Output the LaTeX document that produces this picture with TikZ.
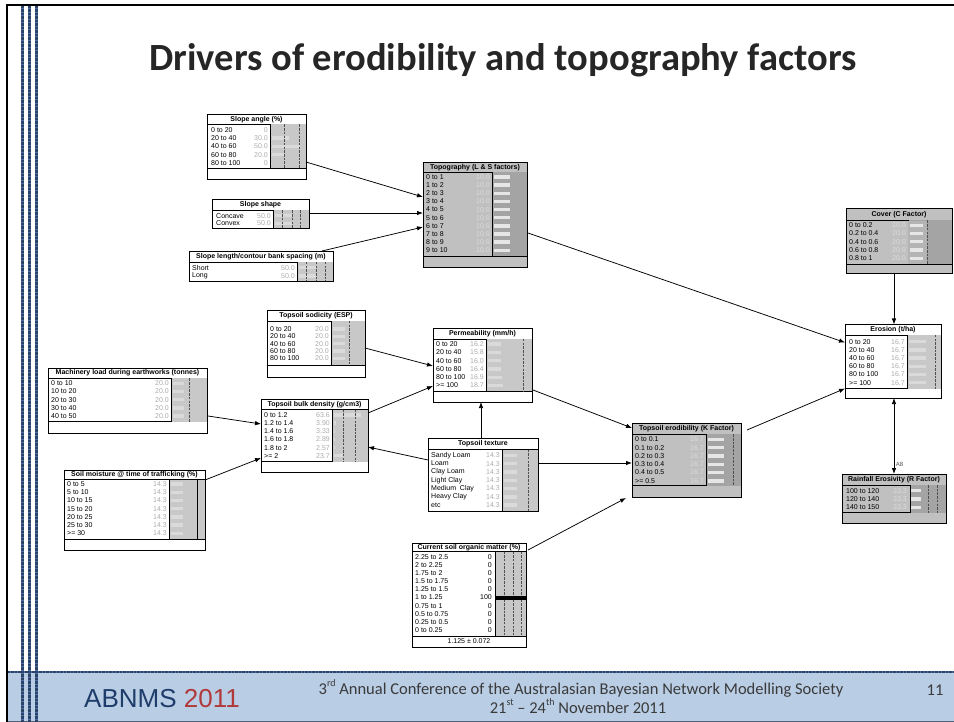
\documentclass[tikz,border=0pt]{standalone}
\usepackage{fontspec}
\setmainfont{Liberation Sans}
\newfontfamily\slidefont[Ligatures=TeX]{Carlito}
\usetikzlibrary{arrows.meta,fit,calc}

\definecolor{bodyw}{HTML}{FFFFFF}
\definecolor{bodyg}{HTML}{C0C0C0}
\definecolor{barw}{HTML}{C8C8C8}
\definecolor{barg}{HTML}{A4A4A4}
\definecolor{stripw}{HTML}{DADADA}
\definecolor{stripg}{HTML}{E6E6E6}
\definecolor{valw}{HTML}{ACACAC}
\definecolor{valg}{HTML}{DCDCDC}
\definecolor{dashgray}{HTML}{505050}
\definecolor{footblue}{HTML}{B9CDE5}
\definecolor{footedge}{HTML}{50617A}
\definecolor{rulblue}{HTML}{4A70A8}
\definecolor{navy}{HTML}{1F3D6B}
\definecolor{yearred}{HTML}{B03A3A}
\definecolor{slidetext}{HTML}{3A3A3A}
\definecolor{headtext}{HTML}{262626}
\definecolor{coverlight}{HTML}{B4B4B4}

\tikzset{
  frame/.style={draw=black, line width=0.9pt},
  divider/.style={draw=black, line width=0.8pt},
  lab/.style={anchor=west, inner sep=0pt, font=\fontsize{7}{8}\selectfont, text=black},
  val/.style={anchor=east, inner sep=0pt, font=\fontsize{7}{8}\selectfont},
  ttl/.style={inner sep=0pt, font=\fontsize{7}{8}\selectfont\bfseries},
  dashv/.style={draw=dashgray, line width=0.6pt, dash pattern=on 2.5pt off 1.2pt},
  conn/.style={draw=black, line width=0.75pt, -{Latex[length=6pt,width=4.5pt]}},
  conntwo/.style={draw=black, line width=0.75pt, {Latex[length=6pt,width=4.5pt]}-{Latex[length=6pt,width=4.5pt]}},
  footline/.style={anchor=base, inner sep=0pt, text=slidetext, font=\slidefont\fontsize{16.5}{18}\selectfont},
}

% #1 name, #2 x1, #3 y1, #4 x2, #5 y2, #6 title rule y, #7 lower rule y, #8 title, #9 scheme (w/g)
\newcommand\bnbox[9]{%
  \fill[fill=body#9] (#2,#3) rectangle (#4,#5);
  \node[fit={(#2,#3)(#4,#5)}, inner sep=0pt, outer sep=0pt] (#1) {};
  \node[ttl] at ({(#2+#4)/2},{(#3+#6)/2}) {#8};
  \draw[divider] (#2,#6) -- (#4,#6) (#2,#7) -- (#4,#7);
}
% probability column: #1 x1, #2 y1, #3 x2, #4 y2, #5 scheme
\newcommand\bnbar[5]{%
  \fill[fill=bar#5] (#1,#2) rectangle (#3,#4);
  \draw[divider] (#1,#2) -- (#1,#4);
}
% belief bars: #1 x, #2 first row y, #3 row step, #4 lengths, #5 colour
\newcommand\bnbars[5]{%
  \foreach \blen [count=\bi from 0] in {#4}
    {\fill[#5] (#1,{#2+\bi*#3-1.7}) rectangle ({#1+\blen},{#2+\bi*#3+1.7});}
}
% #1 x, #2 y1, #3 y2
\newcommand\bndash[3]{\draw[dashv] (#1,#2) -- (#1,#3);}
% state rows: #1 label x, #2 value x, #3 first y, #4 step, #5 label/value list, #6 value colour
\newcommand\bnrows[6]{%
  \foreach \rlab/\rval [count=\bi from 0] in {#5}
    {\node[lab] at (#1,{#3+\bi*#4}) {\rlab};
     \node[val, text=#6] at (#2,{#3+\bi*#4}) {\rval};}
}
\newcommand\bnclose[1]{\draw[frame] (#1.north west) rectangle (#1.south east);}
\newcommand\supsm[1]{\raisebox{0.45em}{\fontsize{10}{10}\selectfont #1}}

\begin{document}
\begin{tikzpicture}[x=1pt,y=-1pt]
\useasboundingbox (0,0) rectangle (954,722);
\fill[white] (0,0) rectangle (954,722);

% ---- slide frame, footer band and side rules ----
\fill[footblue] (7.8,672) rectangle (954,722);
\draw[rulblue, line width=2pt] (7.8,671.5) -- (954,671.5);
\draw[rulblue!60!black, line width=2pt, dash pattern=on 0.7pt off 0.7pt] (7.8,671.5) -- (954,671.5);
\draw[footedge, line width=1.2pt] (7.8,721.3) -- (954,721.3);
\foreach \sx in {22,29,36}{
  \draw[rulblue, line width=3pt] (\sx,5.8) -- (\sx,722);
  \draw[rulblue!60!black, line width=3pt, dash pattern=on 0.7pt off 0.7pt] (\sx,5.8) -- (\sx,722);
}
\draw[black, line width=1.6pt] (7,722) -- (7,5) -- (954,5);

% ---- heading ----
\node[anchor=base, inner sep=0pt, text=headtext,
      font=\slidefont\fontsize{38.5}{42}\selectfont\bfseries] (heading) at (503,71)
      {Drivers of erodibility and topography factors};

% ---- footer ----
\node[anchor=base west, inner sep=0pt, font=\fontsize{26}{30}\selectfont] (abnms) at (84,707)
  {\textcolor{navy}{ABNMS} \textcolor{yearred}{2011}};
\node[footline] (conf1) at (581,694)
  {3\supsm{rd} Annual Conference of the Australasian Bayesian Network Modelling Society};
\node[footline] (conf2) at (578,713)
  {21\supsm{st} – 24\supsm{th} November 2011};
\node[footline] (pageno) at (935,695) {11};

% ---- Slope angle ----
\bnbox{sa}{207}{114}{306}{179}{124.5}{168.5}{Slope angle (\%)}{w}
\bnbar{270.5}{124.5}{306}{168.5}{w}
\bnbars{271.5}{130}{8.2}{0,17,28,12,0}{stripw}
\bndash{284}{124.5}{168.5}\bndash{299}{124.5}{168.5}
\bnrows{211}{268}{130}{8.2}{0 to 20/0, 20 to 40/30.0, 40 to 60/50.0, 60 to 80/20.0, 80 to 100/0}{valw}
\bnclose{sa}

% ---- Slope shape ----
\bnbox{ss}{212}{199}{309}{228}{210.5}{228}{Slope shape}{w}
\bnbar{273}{210.5}{309}{228}{w}
\bnbars{274.5}{215.8}{7.6}{17,17}{stripw}
\bndash{282}{210.5}{228}\bndash{292}{210.5}{228}\bndash{300}{210.5}{228}
\bnrows{216}{271}{215.8}{7.6}{Concave/50.0, Convex/50.0}{valw}
\bnclose{ss}

% ---- Slope length ----
\bnbox{sl}{189}{251}{333}{281}{262}{281}{Slope length/contour bank spacing (m)}{w}
\bnbar{297}{262}{333}{281}{w}
\bnbars{298.5}{267.8}{8.2}{17,17}{stripw}
\bndash{306.5}{262}{281}\bndash{316.5}{262}{281}\bndash{325}{262}{281}
\bnrows{192}{295}{267.8}{8.2}{Short/50.0, Long/50.0}{valw}
\bnclose{sl}

% ---- Topography ----
\bnbox{topo}{423}{162}{527}{267}{172.5}{256}{Topography (L \& S factors)}{g}
\bnbar{492}{172.5}{527}{256}{g}
\bnbars{493.5}{177}{8.15}{16,16,16,16,16,16,16,16,16,16}{stripg}
\bnrows{426}{490}{177}{8.15}{0 to 1/10.0, 1 to 2/10.0, 2 to 3/10.0, 3 to 4/10.0, 4 to 5/10.0, 5 to 6/10.0, 6 to 7/10.0, 7 to 8/10.0, 8 to 9/10.0, 9 to 10/10.0}{valg}
\bnclose{topo}

% ---- Cover ----
\bnbox{cov}{846}{208}{952}{273}{220.5}{264}{Cover (C Factor)}{g}
\bnbar{908}{220.5}{952}{264}{g}
\fill[coverlight] (908.4,220.9) rectangle (927,263.6);
\bnbars{909.5}{225.3}{8.25}{13,13,13,13,13}{stripg}
\bndash{927}{220.5}{264}
\bnrows{849}{906}{225.3}{8.25}{0 to 0.2/20.0, 0.2 to 0.4/20.0, 0.4 to 0.6/20.0, 0.6 to 0.8/20.0, 0.8 to 1/20.0}{valg}
\bnclose{cov}

% ---- Erosion ----
\bnbox{ero}{845}{324.5}{941}{398}{335}{388.5}{Erosion (t/ha)}{w}
\bnbar{907}{335}{941}{388.5}{w}
\bnbars{908.5}{341.7}{8.2}{17,17,17,17,17,17}{stripw}
\bndash{935}{335}{388.5}
\bnrows{849}{905}{341.7}{8.2}{0 to 20/16.7, 20 to 40/16.7, 40 to 60/16.7, 60 to 80/16.7, 80 to 100/16.7, >= 100/16.7}{valw}
\bnclose{ero}

% ---- Rainfall erosivity ----
\bnbox{rain}{842}{474}{946}{523}{485}{512.5}{Rainfall Erosivity (R Factor)}{g}
\bnbar{910}{485}{946}{512.5}{g}
\bnbars{911}{490.7}{8.3}{10,10,10}{stripg}
\bndash{928}{485}{512.5}\bndash{937}{485}{512.5}
\bnrows{846}{907}{490.7}{8.3}{100 to 120/33.3, 120 to 140/33.3, 140 to 150/33.3}{valg}
\bnclose{rain}

% ---- Topsoil erodibility ----
\bnbox{kf}{632}{423}{741}{497}{434.3}{485.5}{Topsoil erodibility (K Factor)}{g}
\bnbar{706}{434.3}{741}{485.5}{g}
\bnbars{707.5}{439.3}{8.3}{16,16,16,16,16,16}{stripg}
\bndash{733}{434.3}{485.5}
\bnrows{635}{704}{439.3}{8.3}{0 to 0.1/16.7, 0.1 to 0.2/16.7, 0.2 to 0.3/16.7, 0.3 to 0.4/16.7, 0.4 to 0.5/16.7, >= 0.5/16.7}{valg}
\bnclose{kf}

% ---- Topsoil sodicity ----
\bnbox{sod}{267}{310}{365}{377}{321}{365}{Topsoil sodicity (ESP)}{w}
\bnbar{331}{321}{365}{365}{w}
\bnbars{332.5}{329}{7.3}{12,12,12,12,12}{stripw}
\bndash{349}{321}{365}
\bnrows{270}{329}{329}{7.3}{0 to 20/20.0, 20 to 40/20.0, 40 to 60/20.0, 60 to 80/20.0, 80 to 100/20.0}{valw}
\bnclose{sod}

% ---- Permeability ----
\bnbox{perm}{433}{328}{532}{402}{339}{391}{Permeability (mm/h)}{w}
\bnbar{486}{339}{532}{391}{w}
\bnbars{487.5}{344}{8.3}{13,13,13,13,14,15}{stripw}
\bndash{523}{339}{391}
\bnrows{436}{484}{344}{8.3}{0 to 20/16.2, 20 to 40/15.8, 40 to 60/16.0, 60 to 80/16.4, 80 to 100/16.9, >= 100/18.7}{valw}
\bnclose{perm}

% ---- Machinery load ----
\bnbox{mach}{48}{368}{207}{433}{378.3}{421.7}{Machinery load during earthworks (tonnes)}{w}
\bnbar{171}{378.3}{207}{421.7}{w}
\bnbars{172.5}{383.3}{8.2}{11,11,11,11,11}{stripw}
\bndash{189}{378.3}{421.7}
\bnrows{51}{169}{383.3}{8.2}{0 to 10/20.0, 10 to 20/20.0, 20 to 30/20.0, 30 to 40/20.0, 40 to 50/20.0}{valw}
\bnclose{mach}

% ---- Soil moisture ----
\bnbox{sm}{64}{470}{205}{550}{479.5}{539}{Soil moisture @ time of trafficking (\%)}{w}
\bnbar{169}{479.5}{205}{539}{w}
\bnbars{170.5}{484}{8.2}{12,12,12,12,12,12,12}{stripw}
\draw[divider] (197,479.5) -- (197,539);
\bnrows{67}{167}{484}{8.2}{0 to 5/14.3, 5 to 10/14.3, 10 to 15/14.3, 15 to 20/14.3, 20 to 25/14.3, 25 to 30/14.3, >= 30/14.3}{valw}
\bnclose{sm}

% ---- Topsoil bulk density ----
\bnbox{bd}{261}{399}{368}{472}{409.5}{461.7}{Topsoil bulk density (g/cm3)}{w}
\bnbar{332}{409.5}{368}{461.7}{w}
\bnbars{333.5}{415}{8.15}{27,2,1.6,1.4,1.2,9}{stripw}
\bndash{343}{409.5}{461.7}\bndash{355}{409.5}{461.7}
\bnrows{264}{330}{415}{8.15}{0 to 1.2/63.6, 1.2 to 1.4/3.90, 1.4 to 1.6/3.33, 1.6 to 1.8/2.89, 1.8 to 2/2.57, >= 2/23.7}{valw}
\bnclose{bd}

% ---- Topsoil texture ----
\bnbox{tex}{428}{438}{538}{511}{449.5}{511}{Topsoil texture}{w}
\bnbar{502}{449.5}{538}{511}{w}
\bnbars{503.5}{455.3}{8.3}{13,13,13,13,13,13,13}{stripw}
\bndash{528}{449.5}{511}
\bnrows{431}{500}{455.3}{8.3}{Sandy Loam/14.3, Loam/14.3, Clay Loam/14.3, Light Clay/14.3, Medium\ \ Clay/14.3, Heavy Clay/14.3, etc/14.3}{valw}
\bnclose{tex}

% ---- Current soil organic matter ----
\bnbox{som}{412}{543}{526}{647}{551.5}{636}{Current soil organic matter (\%)}{w}
\bnbar{495}{551.5}{526}{636}{w}
\bndash{504}{551.5}{636}\bndash{513}{551.5}{636}\bndash{521.5}{551.5}{636}
\fill[black] (495,595.8) rectangle (526,600.4);
\bnrows{415}{492}{556.7}{8.15}{2.25 to 2.5/0, 2 to 2.25/0, 1.75 to 2/0, 1.5 to 1.75/0, 1.25 to 1.5/0, 1 to 1.25/100, 0.75 to 1/0, 0.5 to 0.75/0, 0.25 to 0.5/0, 0 to 0.25/0}{black}
\node[lab, anchor=center] (somstat) at (469,641.5) {1.125 ± 0.072};
\bnclose{som}

% ---- links ----
\draw[conn] ($(sa.north east)+(0,48)$) -- ($(topo.north west)+(0,35)$);
\draw[conn] ($(ss.north east)+(0,14)$) -- ($(topo.north west)+(0,51)$);
\draw[conn] ($(sl.north east)+(-11,0)$) -- ($(topo.north west)+(0,65)$);
\draw[conn] ($(topo.north east)+(1,71)$) -- ($(ero.north west)+(0,18)$);
\draw[conn] ($(cov.south west)+(48,0)$) -- ($(ero.north west)+(49,0)$);
\draw[conntwo] ($(ero.south west)+(49,0)$) -- ($(rain.north west)+(52,0)$)
  node[pos=0.88, right, inner sep=1.5pt, font=\fontsize{6}{7}\selectfont, text=dashgray] {A8};
\draw[conn] ($(kf.north east)+(6,7)$) -- ($(ero.north west)+(0,64)$);
\draw[conn] ($(sod.north east)+(0,38)$) -- ($(perm.north west)+(0,38)$);
\draw[conn] ($(bd.north east)+(0,14)$) -- ($(perm.north west)+(0,58)$);
\draw[conn] ($(tex.north west)+(53,0)$) -- ($(perm.south west)+(48,0)$);
\draw[conn] ($(perm.north east)+(1,62)$) -- ($(kf.north west)+(0,5)$);
\draw[conn] ($(tex.north east)+(0,25)$) -- ($(kf.north west)+(0,40)$);
\draw[conn] ($(som.north east)+(2,7)$) -- ($(kf.south west)+(-6,1)$);
\draw[conn] ($(mach.south east)+(1,-17)$) -- ($(bd.north west)+(0,25)$);
\draw[conn] ($(sm.north east)+(0,10)$) -- ($(bd.north west)+(0,59)$);
\draw[conn] ($(tex.north west)+(0,22)$) -- ($(bd.north east)+(0,48)$);
\end{tikzpicture}
\end{document}
